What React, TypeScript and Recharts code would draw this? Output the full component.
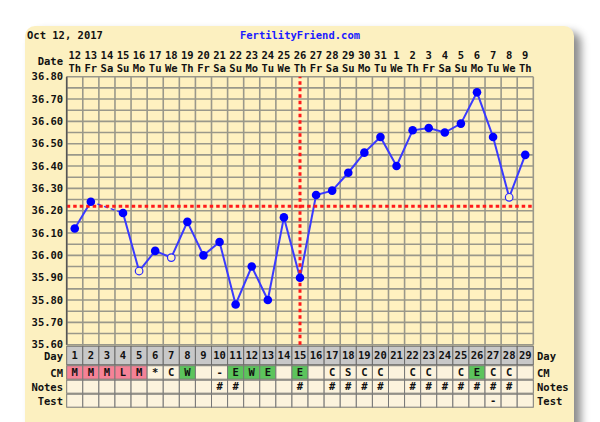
import React from 'react'
import { LineChart, Line, XAxis, YAxis, CartesianGrid, ReferenceLine } from 'recharts'

const dayNums = [1, 2, 3, 4, 5, 6, 7, 8, 9, 10, 11, 12, 13, 14, 15, 16, 17, 18, 19, 20, 21, 22, 23, 24, 25, 26, 27, 28, 29]
const dateLabels = ['12', '13', '14', '15', '16', '17', '18', '19', '20', '21', '22', '23', '24', '25', '26', '27', '28', '29', '30', '31', '1', '2', '3', '4', '5', '6', '7', '8', '9']
const weekdays = ['Th', 'Fr', 'Sa', 'Su', 'Mo', 'Tu', 'We', 'Th', 'Fr', 'Sa', 'Su', 'Mo', 'Tu', 'We', 'Th', 'Fr', 'Sa', 'Su', 'Mo', 'Tu', 'We', 'Th', 'Fr', 'Sa', 'Su', 'Mo', 'Tu', 'We', 'Th']
const temps = [36.12, 36.24, null, 36.19, 35.93, 36.02, 35.99, 36.15, 36.0, 36.06, 35.78, 35.95, 35.8, 36.17, 35.9, 36.27, 36.29, 36.37, 36.46, 36.53, 36.4, 36.56, 36.57, 36.55, 36.59, 36.73, 36.53, 36.26, 36.45]
const openDays = [5, 7, 28]
const cm = ['M', 'M', 'M', 'L', 'M', '*', 'C', 'W', '', '-', 'E', 'W', 'E', '', 'E', '', 'C', 'S', 'C', 'C', '', 'C', 'C', '', 'C', 'E', 'C', 'C', '']
const periodDays = [1, 2, 3, 4, 5]
const noteDays = [10, 11, 15, 17, 18, 19, 20, 22, 23, 24, 25, 26, 27, 28]
const tests = ['', '', '', '', '', '', '', '', '', '', '', '', '', '', '', '', '', '', '', '', '', '', '', '', '', '', '-', '', '']
const tempTicks = [35.6, 35.7, 35.8, 35.9, 36.0, 36.1, 36.2, 36.3, 36.4, 36.5, 36.6, 36.7, 36.8]
const coverline = 36.22
const ovulationDay = 15

// dashed bridge across the missing day 3
const bridge = [2, 4]

const data = dayNums.map((d, i) => ({
  day: d,
  temp: temps[i],
  bridge: bridge.includes(d) ? temps[i] : null
}))

const FONT = '"DejaVu Sans Mono", monospace'
const PANEL = '#fcf0c0'
const PLOT = '#fff1c0'
const COL_W = 466.6 / 29

const gridX = [...dayNums.map((d) => d - 0.5), 29.5]
const gridY: number[] = []
for (let i = 0; i <= 24; i++) gridY.push(Math.round((35.6 + i * 0.05) * 100) / 100)

const txt = { fontFamily: FONT, fontSize: 10.5, fontWeight: 700, fill: '#111' }

const TopTick = (props: any) => {
  const { x, y, payload } = props
  const i = payload.index
  return (
    <g>
      <text x={x} y={y - 18} textAnchor='middle' {...txt}>{dateLabels[i]}</text>
      <text x={x} y={y - 5} textAnchor='middle' {...txt}>{weekdays[i]}</text>
    </g>
  )
}

const BottomTick = (props: any) => {
  const { x, y, payload } = props
  const i = payload.index
  const d = dayNums[i]
  const left = x - COL_W / 2
  let cmFill = '#fcf3dd'
  if (periodDays.includes(d)) cmFill = '#f58296'
  else if (cm[i] === 'W' || cm[i] === 'E') cmFill = '#5cc45c'
  return (
    <g>
      <rect x={left} y={y + 1.5} width={COL_W} height={18.5} fill='#c8c8c8' stroke='#6a6a6a' strokeWidth={1} />
      <text x={x} y={y + 14.5} textAnchor='middle' {...txt}>{d}</text>
      <rect x={left} y={y + 21} width={COL_W} height={13.5} fill={cmFill} stroke='#777' strokeWidth={1} />
      <text x={x} y={y + 31.5} textAnchor='middle' {...txt}>{cm[i]}</text>
      <rect x={left} y={y + 35.5} width={COL_W} height={13} fill='#fcf3dd' stroke='#777' strokeWidth={1} />
      <text x={x} y={y + 45.5} textAnchor='middle' {...txt}>{noteDays.includes(d) ? '#' : ''}</text>
      <rect x={left} y={y + 49.5} width={COL_W} height={13} fill='#fcf3dd' stroke='#777' strokeWidth={1} />
      <text x={x} y={y + 59.5} textAnchor='middle' {...txt}>{tests[i]}</text>
    </g>
  )
}

const TempDot = (props: any) => {
  const { cx, cy, payload } = props
  if (payload.temp == null || cx == null || cy == null) return <g key={props.index} />
  if (openDays.includes(payload.day)) {
    return <circle key={props.index} cx={cx} cy={cy} r={3.8} fill={PLOT} stroke='#2a2aff' strokeWidth={1.2} />
  }
  return <circle key={props.index} cx={cx} cy={cy} r={4.3} fill='#0000ff' />
}

const rowLabels = [
  { label: 'Day', y: 359.5 },
  { label: 'CM', y: 377 },
  { label: 'Notes', y: 391 },
  { label: 'Test', y: 404.5 }
]

export default function App() {
  return (
    <div style={{ position: 'absolute', left: 0, top: 0, width: 600, height: 422, overflow: 'hidden', background: '#fff' }}>
      <div
        style={{
          position: 'absolute',
          left: 25,
          top: 26,
          width: 549,
          height: 430,
          borderRadius: 10,
          background: PANEL,
          boxShadow: '7px 6px 9px rgba(0,0,0,0.45)'
        }}
      />
      <div style={{ position: 'absolute', left: 0, top: 0 }}>
        <LineChart width={600} height={422} data={data} margin={{ top: 0, right: 0, bottom: 0, left: 0 }}>
          <CartesianGrid
            xAxisId='gridX'
            yAxisId='gridY'
            fill={PLOT}
            fillOpacity={1}
            stroke='#9a988a'
            strokeWidth={1.6}
          />
          <XAxis xAxisId='gridX' type='number' dataKey='day' domain={[0.5, 29.5]} ticks={gridX} interval={0} height={0} hide allowDataOverflow />
          <YAxis yAxisId='gridY' type='number' dataKey='temp' domain={[35.6, 36.8]} ticks={gridY} interval={0} width={0} hide allowDataOverflow />
          <XAxis
            xAxisId='top'
            orientation='top'
            type='number'
            dataKey='day'
            domain={[0.5, 29.5]}
            ticks={dayNums}
            interval={0}
            height={76.7}
            tickSize={0}
            tickMargin={0}
            axisLine={false}
            tickLine={false}
            tick={<TopTick />}
          />
          <XAxis
            xAxisId='bottom'
            orientation='bottom'
            type='number'
            dataKey='day'
            domain={[0.5, 29.5]}
            ticks={dayNums}
            interval={0}
            height={77.3}
            tickSize={0}
            tickMargin={0}
            axisLine={false}
            tickLine={false}
            tick={<BottomTick />}
          />
          <YAxis
            yAxisId='left'
            type='number'
            domain={[35.6, 36.8]}
            ticks={tempTicks}
            interval={0}
            width={66.7}
            tickSize={0}
            tickMargin={3.5}
            axisLine={{ stroke: '#555', strokeWidth: 1.5 }}
            tickLine={false}
            tickFormatter={(v: number) => v.toFixed(2)}
            tick={txt}
          />
          <YAxis
            yAxisId='right'
            orientation='right'
            type='number'
            domain={[35.6, 36.8]}
            ticks={tempTicks}
            interval={0}
            width={66.7}
            tickSize={0}
            tickMargin={3.5}
            axisLine={false}
            tickLine={false}
            tickFormatter={(v: number) => v.toFixed(2)}
            tick={{ ...txt, textAnchor: 'start' }}
          />
          <Line
            xAxisId='bottom'
            yAxisId='left'
            dataKey='bridge'
            stroke='#3a3aff'
            strokeWidth={1.5}
            strokeDasharray='4 3'
            connectNulls
            dot={false}
            activeDot={false}
            isAnimationActive={false}
          />
          <Line
            xAxisId='bottom'
            yAxisId='left'
            dataKey='temp'
            stroke='#3a3aff'
            strokeWidth={2}
            connectNulls={false}
            dot={<TempDot />}
            activeDot={false}
            isAnimationActive={false}
          />
          <ReferenceLine xAxisId='bottom' yAxisId='left' y={coverline} stroke='#ff1a1a' strokeWidth={3} strokeDasharray='3.5 3' />
          <ReferenceLine xAxisId='bottom' yAxisId='left' x={ovulationDay} stroke='#ff1a1a' strokeWidth={3} strokeDasharray='3.5 3' />
        </LineChart>
      </div>
      <svg width={600} height={422} style={{ position: 'absolute', left: 0, top: 0, pointerEvents: 'none' }}>
        <text x={27} y={39} {...txt}>Oct 12, 2017</text>
        <text x={300} y={39} textAnchor='middle' {...txt} fill='#1a1aff'>FertilityFriend.com</text>
        <text x={63} y={65} textAnchor='end' {...txt}>Date</text>
        {rowLabels.map((r) => (
          <g key={r.label}>
            <text x={63} y={r.y} textAnchor='end' {...txt}>{r.label}</text>
            <text x={537} y={r.y} textAnchor='start' {...txt}>{r.label}</text>
          </g>
        ))}
      </svg>
    </div>
  )
}
